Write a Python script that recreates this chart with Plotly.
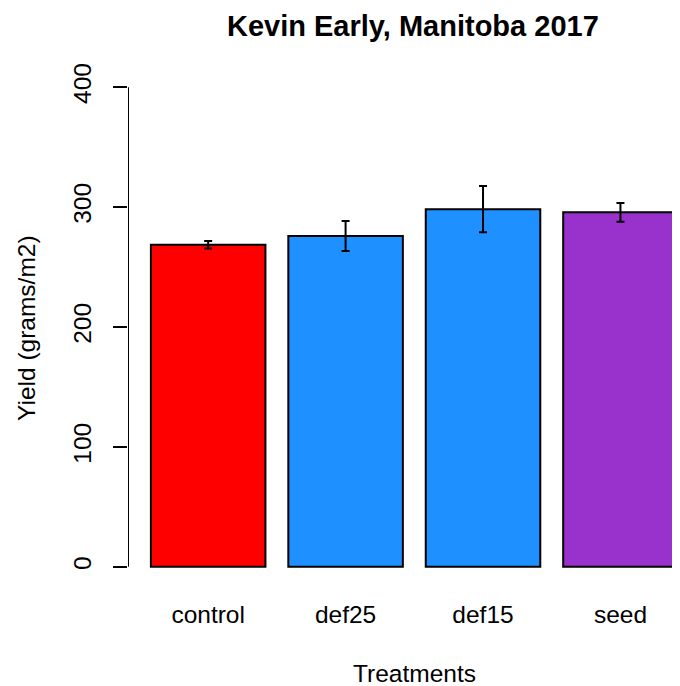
import plotly.graph_objects as go

categories = ["control", "def25", "def15", "seed"]
yield_mean = [268.6, 275.8, 298.3, 295.6]
yield_err = [3.2, 12.5, 19.2, 7.8]
bar_colors = ["#FF0000", "#1E90FF", "#1E90FF", "#9932CC"]
y_ticks = [0, 100, 200, 300, 400]

FONT = "Liberation Sans, Arial, sans-serif"

# R barplot layout: width 1, space 0.2
xpos = [0.2 + 1.2 * i + 0.5 for i in range(len(categories))]

# page has an 8px body margin; figure is sized to fill the rest
W, H = 672, 678
L, R, T, B = 120, 0, 60, 100
PW, PH = W - L - R, H - T - B


def px(x):
    return (x - 8 - L) / PW


def py(y):
    return (H - B - (y - 8)) / PH


fig = go.Figure()
fig.add_trace(go.Bar(
    x=xpos, y=yield_mean, width=1.0,
    marker=dict(color=bar_colors, line=dict(color="black", width=2)),
    error_y=dict(type="data", array=yield_err, visible=True,
                 color="black", thickness=2, width=4),
    showlegend=False,
))

# y axis line from 0 to 400 only
fig.add_shape(type="line", xref="x", yref="y", x0=0, x1=0, y0=0, y1=400,
              line=dict(color="black", width=2))

fig.update_layout(
    width=W, height=H,
    margin=dict(l=L, r=R, t=T, b=B, pad=0),
    paper_bgcolor="white", plot_bgcolor="white",
    font=dict(family=FONT, size=24.5, color="black"),
    xaxis=dict(range=[0, 4.82], tickvals=xpos, ticktext=categories,
               showgrid=False, zeroline=False, showline=False,
               ticks="", ticklabelstandoff=11,
               tickfont=dict(size=24.5)),
    yaxis=dict(range=[-16, 416], tickvals=y_ticks, showgrid=False,
               zeroline=False, showline=False, ticks="outside",
               ticklen=14, tickwidth=2, tickcolor="black",
               tickangle=-90, ticklabelstandoff=12,
               tickfont=dict(size=24.5)),
    annotations=[
        dict(text="<b>Kevin Early, Manitoba 2017</b>", xref="paper", yref="paper",
             x=px(413), y=py(26), xanchor="center",
             yanchor="middle", showarrow=False, font=dict(size=29)),
        dict(text="Treatments", xref="paper", yref="paper",
             x=px(414), y=py(673), xanchor="center",
             yanchor="middle", showarrow=False, font=dict(size=24.5)),
        dict(text="Yield (grams/m2)", xref="paper", yref="paper",
             x=px(26), y=py(328), xanchor="center",
             yanchor="middle", textangle=-90, showarrow=False,
             font=dict(size=24.5)),
    ],
)

fig.write_html("out.html")
